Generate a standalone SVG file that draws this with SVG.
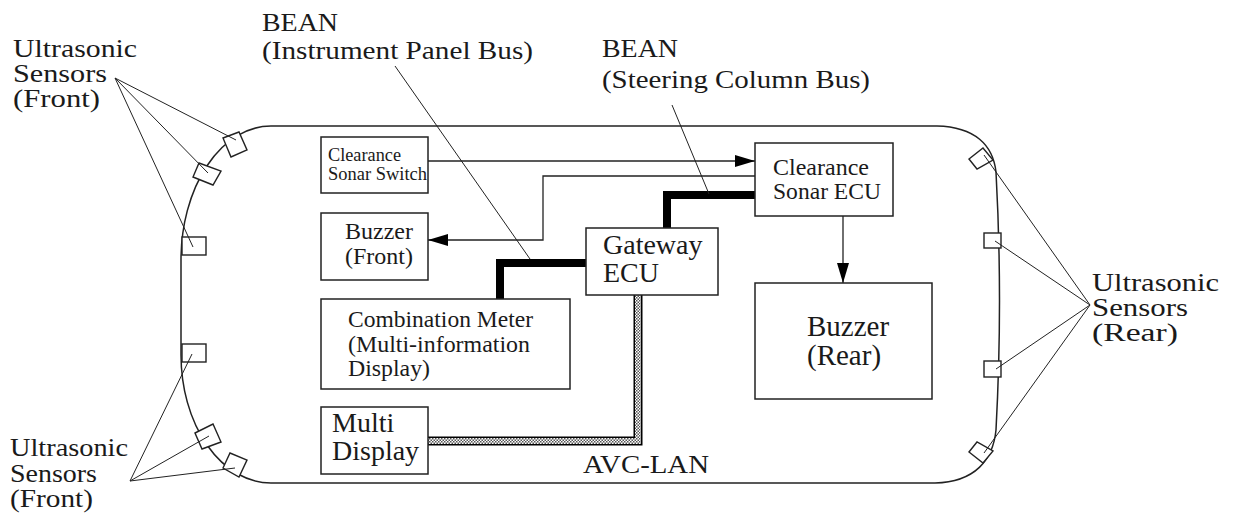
<svg xmlns="http://www.w3.org/2000/svg" width="1234" height="519" viewBox="0 0 1234 519">
<style>
text{font-family:"Liberation Serif","Times New Roman",serif;fill:#1a1a1a}
.lbl{font-size:26px}
.box{fill:#fff;stroke:#222;stroke-width:1.5}
.sensor{fill:#fff;stroke:#222;stroke-width:1.4}
.thin{fill:none;stroke:#222;stroke-width:1.3}
.ptr{fill:none;stroke:#222;stroke-width:1}
.bean{fill:none;stroke:#000;stroke-width:8;stroke-linejoin:miter;stroke-linecap:butt}
</style>
<defs>
<marker id="arr" markerUnits="userSpaceOnUse" markerWidth="20" markerHeight="12" refX="20" refY="6" orient="auto">
<path d="M0,0 L20,6 L0,12 z" fill="#000"/>
</marker>
<pattern id="dots" patternUnits="userSpaceOnUse" width="3" height="3">
<rect width="3" height="3" fill="#fff"/>
<rect width="1.5" height="1.5" fill="#555"/>
<rect x="1.5" y="1.5" width="1.5" height="1.5" fill="#555"/>
</pattern>
</defs>
<rect width="1234" height="519" fill="#fff"/>

<g id="body">
<path d="M271,126 H937 C975,127 993,145 996,172 Q1003,300 996,430 C993,460 975,482 935,483 H271 A90,128 0 0 1 181,355 V260 A90,134 0 0 1 271,126 Z" fill="none" stroke="#222" stroke-width="1.5"/>
</g>

<g id="sensors-front">
<polygon class="sensor" points="223,138 239,132 247,150 231,157"/>
<polygon class="sensor" points="199,163 221,171 213,185 193,177"/>
<rect class="sensor" x="182" y="237" width="24" height="18"/>
<rect class="sensor" x="182" y="344" width="24" height="18"/>
<polygon class="sensor" points="195,433 213,424 221,442 202,449"/>
<polygon class="sensor" points="223,468 230,453 247,460 239,477"/>
</g>
<g id="sensors-rear">
<polygon class="sensor" points="969,159 983,148 993,160 977,169"/>
<rect class="sensor" x="984" y="233" width="17" height="15"/>
<rect class="sensor" x="984" y="361" width="17" height="16"/>
<polygon class="sensor" points="969,452 983,463 993,451 977,442"/>
</g>

<g id="connectors">
<path class="bean" d="M586,263 H500 V299"/>
<path class="bean" d="M755,195 H667 V228"/>
<path d="M428,441 H638 V295" fill="none" stroke="#000" stroke-width="9" stroke-linejoin="miter"/>
<path d="M428,441 H638 V295" fill="none" stroke="url(#dots)" stroke-width="6" stroke-linejoin="miter"/>
<path class="thin" d="M428,161 H755" marker-end="url(#arr)"/>
<path class="thin" d="M755,176 H543 V240 H428" marker-end="url(#arr)"/>
<path class="thin" d="M843,216 V283" marker-end="url(#arr)"/>
<path class="ptr" d="M395,66 L530,259"/>
<path class="ptr" d="M672,105 L709,194"/>
<path class="ptr" d="M115,78 L236,140 M115,78 L208,173 M115,78 L193,247"/>
<path class="ptr" d="M130,481 L192,354 M130,481 L209,436 M130,481 L235,468"/>
<path class="ptr" d="M1090,305 L984,155 M1090,305 L995,241 M1090,305 L996,369 M1090,305 L984,453"/>
</g>

<g id="switch">
<rect class="box" x="321" y="137" width="107" height="56"/>
<text x="328" y="161" font-size="18" textLength="73" lengthAdjust="spacingAndGlyphs">Clearance</text>
<text x="328" y="180" font-size="18" textLength="99" lengthAdjust="spacingAndGlyphs">Sonar Switch</text>
</g>
<g id="buzzer-front">
<rect class="box" x="321" y="213" width="107" height="67"/>
<text x="345" y="239" font-size="24">Buzzer</text>
<text x="345" y="264" font-size="24">(Front)</text>
</g>
<g id="combination-meter">
<rect class="box" x="321" y="299" width="249" height="90"/>
<text x="348" y="327" font-size="24" textLength="185" lengthAdjust="spacingAndGlyphs">Combination Meter</text>
<text x="348" y="352" font-size="24" textLength="182" lengthAdjust="spacingAndGlyphs">(Multi-information</text>
<text x="348" y="376" font-size="24" textLength="82" lengthAdjust="spacingAndGlyphs">Display)</text>
</g>
<g id="multi-display">
<rect class="box" x="321" y="407" width="107" height="67"/>
<text x="332" y="432" font-size="28">Multi</text>
<text x="332" y="460" font-size="28">Display</text>
</g>
<g id="gateway-ecu">
<rect class="box" x="586" y="228" width="132" height="67"/>
<text x="603" y="254" font-size="28">Gateway</text>
<text x="603" y="282" font-size="28">ECU</text>
</g>
<g id="clearance-ecu">
<rect class="box" x="755" y="143" width="138" height="73"/>
<text x="773" y="175" font-size="24">Clearance</text>
<text x="773" y="199" font-size="24" textLength="108" lengthAdjust="spacingAndGlyphs">Sonar ECU</text>
</g>
<g id="buzzer-rear">
<rect class="box" x="755" y="283" width="177" height="116"/>
<text x="807" y="336" font-size="29">Buzzer</text>
<text x="807" y="365" font-size="29">(Rear)</text>
</g>

<g id="labels">
<text class="lbl" x="13" y="57" textLength="124" lengthAdjust="spacingAndGlyphs">Ultrasonic</text>
<text class="lbl" x="13" y="82" textLength="94" lengthAdjust="spacingAndGlyphs">Sensors</text>
<text class="lbl" x="13" y="107" textLength="87" lengthAdjust="spacingAndGlyphs">(Front)</text>
<text class="lbl" x="10" y="456" textLength="118" lengthAdjust="spacingAndGlyphs">Ultrasonic</text>
<text class="lbl" x="10" y="482" textLength="87" lengthAdjust="spacingAndGlyphs">Sensors</text>
<text class="lbl" x="10" y="507" textLength="83" lengthAdjust="spacingAndGlyphs">(Front)</text>
<text class="lbl" x="1092" y="291" textLength="127" lengthAdjust="spacingAndGlyphs">Ultrasonic</text>
<text class="lbl" x="1092" y="316" textLength="96" lengthAdjust="spacingAndGlyphs">Sensors</text>
<text class="lbl" x="1092" y="341" textLength="86" lengthAdjust="spacingAndGlyphs">(Rear)</text>
<text class="lbl" x="262" y="31" textLength="76" lengthAdjust="spacingAndGlyphs">BEAN</text>
<text class="lbl" x="262" y="59" textLength="271" lengthAdjust="spacingAndGlyphs">(Instrument Panel Bus)</text>
<text class="lbl" x="602" y="57" textLength="76" lengthAdjust="spacingAndGlyphs">BEAN</text>
<text class="lbl" x="602" y="88" textLength="268" lengthAdjust="spacingAndGlyphs">(Steering Column Bus)</text>
<text class="lbl" x="583" y="473" textLength="126" lengthAdjust="spacingAndGlyphs">AVC-LAN</text>
</g>
</svg>
